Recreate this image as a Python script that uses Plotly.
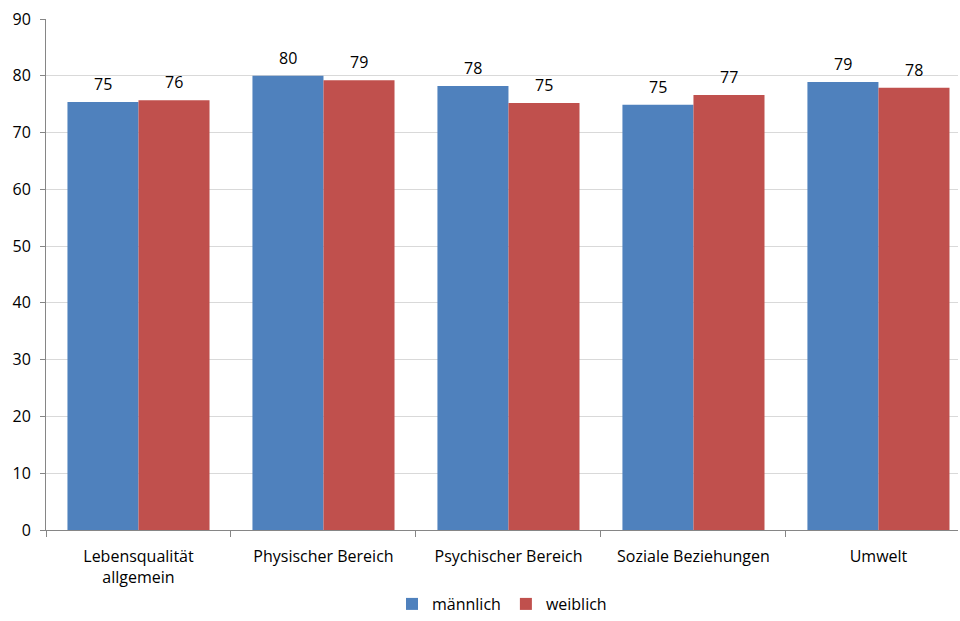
import plotly.graph_objects as go

categories = ["Lebensqualität<br>allgemein", "Physischer Bereich", "Psychischer Bereich",
              "Soziale Beziehungen", "Umwelt"]
maennlich = [75.4, 80.0, 78.2, 74.9, 78.9]
weiblich = [75.7, 79.2, 75.2, 76.6, 77.9]
series_names = ["männlich", "weiblich"]
y_ticks = [0, 10, 20, 30, 40, 50, 60, 70, 80, 90]

FONT = "Open Sans, Carlito, Calibri, sans-serif"
COLORS = ["#4F81BD", "#C0504D"]

fig = go.Figure()
for i, (name, vals) in enumerate([(series_names[0], maennlich), (series_names[1], weiblich)]):
    fig.add_trace(go.Bar(
        x=categories, y=vals, name=name, marker_color=COLORS[i], marker_line_width=0,
    ))
    shift = -35.5 if i == 0 else 35.5
    for c, v in zip(categories, vals):
        fig.add_annotation(x=c, y=v, text=f"{round(v):d}", showarrow=False,
                           xshift=shift, yshift=5, yanchor="bottom",
                           font=dict(size=16, color="#000000", family=FONT))

fig.update_layout(
    width=960, height=621,
    margin=dict(l=46, r=2, t=19, b=91),
    paper_bgcolor="white", plot_bgcolor="white",
    barmode="group", bargap=0.232, bargroupgap=0,
    font=dict(family=FONT, size=16, color="#000000"),
    showlegend=True,
    legend=dict(orientation="h", x=0.5, xanchor="center", xref="paper",
                y=-0.008, yanchor="bottom", yref="container",
                font=dict(size=16), itemwidth=30, traceorder="normal"),
    xaxis=dict(range=[-0.5, 4.43], showline=True, linecolor="#868686", linewidth=1,
               ticks="outside", tickson="boundaries", ticklen=6, tickcolor="#868686",
               showgrid=False, tickfont=dict(size=16), automargin=False,
               ticklabelstandoff=12),
    yaxis=dict(range=[0, 90], tickvals=y_ticks, showline=True, linecolor="#868686",
               linewidth=1, ticks="outside", ticklen=5, tickcolor="#868686",
               gridcolor="#D9D9D9", gridwidth=1, zeroline=False, tickfont=dict(size=16),
               automargin=False, ticklabelstandoff=6),
)

fig.write_html("out.html", config={"displayModeBar": False},
               post_script="document.body.style.margin='0';document.body.style.overflow='hidden';")
